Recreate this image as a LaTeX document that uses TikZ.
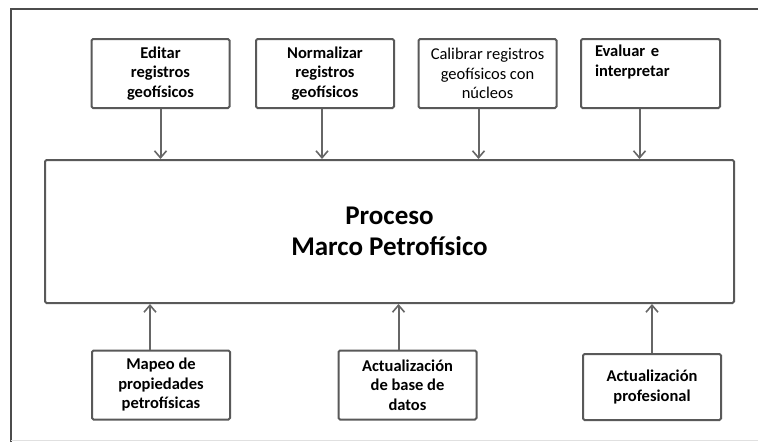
\documentclass[tikz,border=0pt]{standalone}
\usepackage{fontspec}
\setmainfont{Carlito}
\usetikzlibrary{arrows.meta}
\tikzset{
  box/.style={draw=black!65, line width=2pt, rounded corners=1.5pt, fill=white,
    minimum width=138pt, minimum height=69pt, align=center, inner sep=2pt,
    font=\fontsize{16.5}{19.5}\selectfont\bfseries},
  feed/.style={draw=black!60, line width=2pt,
    -{Straight Barb[length=7pt,width=12pt,line width=1.6pt]}}
}
\begin{document}
\begin{tikzpicture}[x=1pt,y=-1pt]
  \useasboundingbox (0,0) rectangle (758,442);
  \draw[black!70,line width=2.4pt] (11,442) -- (11,9) -- (758,9);
  \draw[black!12,line width=1pt] (11,440) -- (758,440);

  \node[box,minimum width=689pt,minimum height=143pt,
    font=\fontsize{27}{31}\selectfont\bfseries] (marco) at (389.5,231.5)
    {Proceso\\Marco Petrofísico};

  \node[box] (editar) at (160.5,73.5) {Editar\\registros\\geofísicos};
  \node[box] (normal) at (325,73.5) {Normalizar\\registros\\geofísicos};
  \node[box,font=\fontsize{16.5}{19.5}\selectfont] (calibrar) at (487.5,73.5)
    {Calibrar registros\\geofísicos con\\núcleos};
  \node[box,align=left,text width=111pt,inner xsep=14pt] (evaluar) at (650.5,73.5)
    {Evaluar e\\interpretar\\ \strut};

  \node[box] (mapeo) at (161,385) {Mapeo de\\propiedades\\petrofísicas};
  \node[box] (base) at (407.5,385) {Actualización\\de base de\\datos};
  \node[box,minimum height=66pt] (prof) at (652,387) {Actualización\\profesional};

  \draw[feed] (editar.south) -- (editar.south |- marco.north);
  \draw[feed] ([xshift=-3pt]normal.south) -- ([xshift=-3pt]normal.south |- marco.north);
  \draw[feed] ([xshift=-9pt]calibrar.south) -- ([xshift=-9pt]calibrar.south |- marco.north);
  \draw[feed] ([xshift=-11pt]evaluar.south) -- ([xshift=-11pt]evaluar.south |- marco.north);

  \draw[feed] ([xshift=-11pt]mapeo.north) -- ([xshift=-11pt]mapeo.north |- marco.south);
  \draw[feed] ([xshift=-9pt]base.north) -- ([xshift=-9pt]base.north |- marco.south);
  \draw[feed] (prof.north) -- (prof.north |- marco.south);
\end{tikzpicture}
\end{document}
